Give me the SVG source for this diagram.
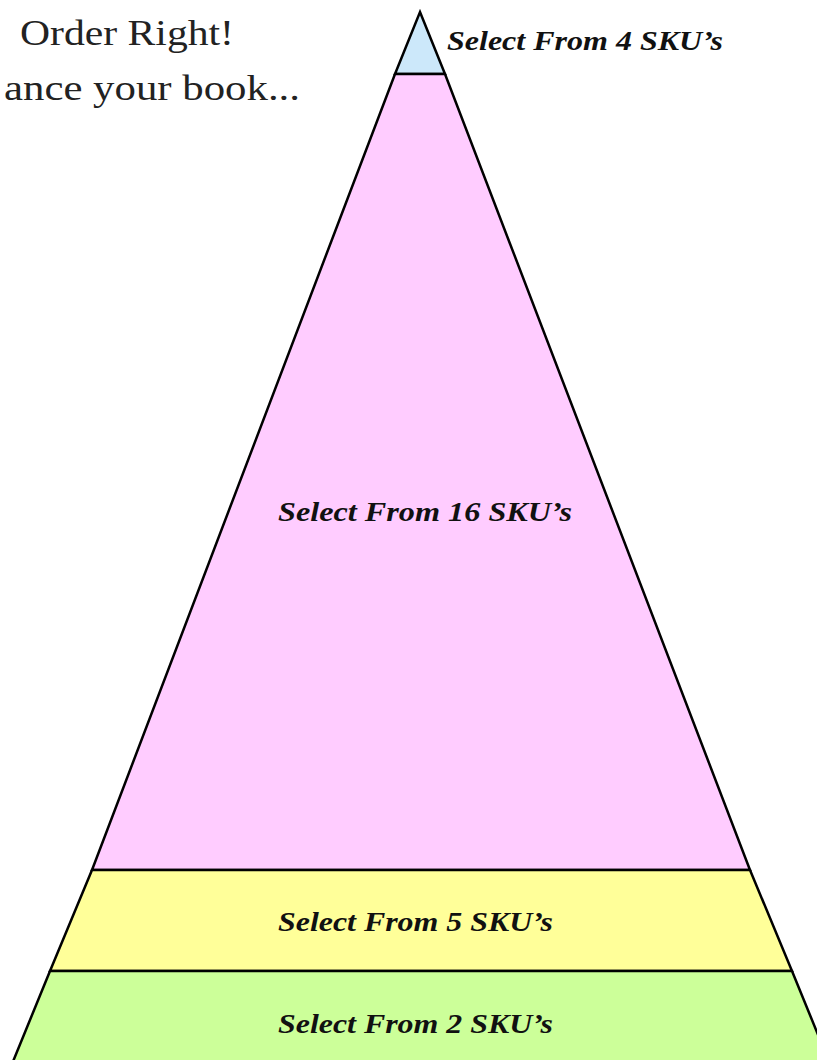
<svg xmlns="http://www.w3.org/2000/svg" width="817" height="1060" viewBox="0 0 817 1060">
<style>
.band{stroke:#000;stroke-width:2.5;stroke-linejoin:miter}
.lbl{font-family:"Liberation Serif",serif;font-style:italic;font-weight:bold;font-size:28px;fill:#111}
.head{font-family:"Liberation Serif",serif;font-size:36px;fill:#222}
</style>
<rect width="817" height="1060" fill="#fff"/>
<g id="title">
<text class="head" x="20" y="45" textLength="214" lengthAdjust="spacingAndGlyphs">Order Right!</text>
<text class="head" x="4" y="100" textLength="296" lengthAdjust="spacingAndGlyphs">ance your book...</text>
</g>
<g id="tier-top">
<polygon class="band" points="420,12 445,74 395,74" fill="#cce8fa"/>
<text class="lbl" x="447" y="50" textLength="276" lengthAdjust="spacingAndGlyphs">Select From 4 SKU’s</text>
</g>
<g id="tier-16">
<polygon class="band" points="395,74 445,74 750,870 92,870" fill="#ffccff"/>
<text class="lbl" x="278" y="521" textLength="294" lengthAdjust="spacingAndGlyphs">Select From 16 SKU’s</text>
</g>
<g id="tier-5">
<polygon class="band" points="92,870 750,870 792,971 50,971" fill="#ffff99"/>
<text class="lbl" x="278" y="931" textLength="275" lengthAdjust="spacingAndGlyphs">Select From 5 SKU’s</text>
</g>
<g id="tier-2">
<polygon class="band" points="50,971 792,971 830,1064 12,1064" fill="#ccff99"/>
<text class="lbl" x="278" y="1033" textLength="275" lengthAdjust="spacingAndGlyphs">Select From 2 SKU’s</text>
</g>
<g id="connectors"/>
</svg>
